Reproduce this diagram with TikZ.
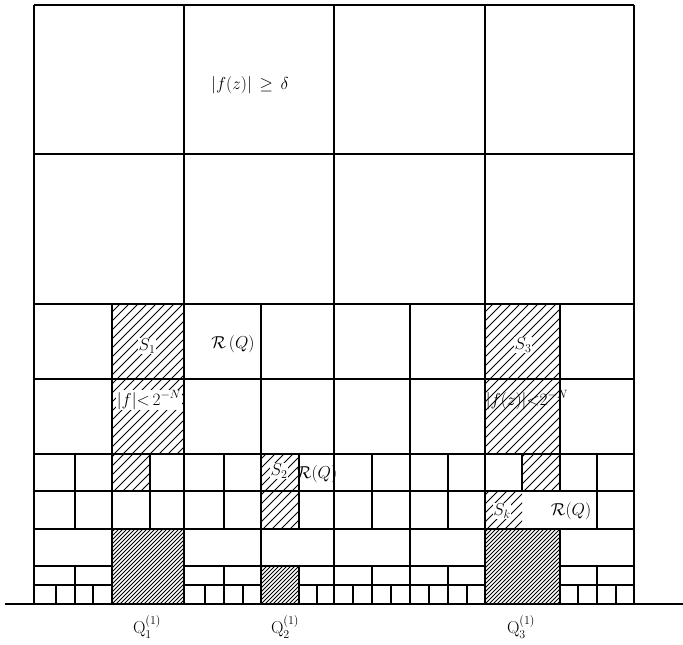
\documentclass[tikz,border=0pt]{standalone}
\usepackage{amsmath,amssymb}
\usepackage{tikz}
\tikzset{
  whitney/.style={
    x=1pt, y=-1pt,
    line width=1.5pt,
    every node/.style={font=\fontsize{18}{21}\selectfont, inner sep=1pt}
  },
  cut/.style={draw=black, line width=1.6pt},           % cube edges
  ground/.style={draw=black, line width=1.6pt},        % real axis
  hatchline/.style={draw=black, line width=0.8pt},     % one stroke of hatching
  onhatch/.style={fill=white, inner sep=0.5pt},
  qlabel/.style={font=\fontsize{18}{21}\selectfont}
}
% hatch a box (x1,y1)--(x2,y2) with 45 degree strokes, spacing #5
\newcommand{\hatchbox}[5]{%
  \begin{scope}
    \clip (#1,#2) rectangle (#3,#4);
    \foreach \k in {0,...,70}
      \draw[hatchline] ({#1-160+\k*#5},#4) -- ++(170,-170);
  \end{scope}}

\begin{document}
\begin{tikzpicture}[whitney]
\useasboundingbox (0,0) rectangle (683,645);

% hatched cubes first, grid on top
\hatchbox{112}{304}{184}{454}{9}
\hatchbox{112}{454}{150}{491}{9}
\hatchbox{261}{454}{299}{529}{9}
\hatchbox{485}{304}{560}{454}{9}
\hatchbox{522}{454}{560}{491}{9}
\hatchbox{485}{491}{522}{529}{9}
% the cubes Q^{(1)}
\hatchbox{112}{529}{184}{604}{4}
\hatchbox{261}{566}{299}{604}{4}
\hatchbox{485}{529}{560}{604}{4}

% big columns
\foreach \x in {34,184,334,485,634}
  \draw[cut] (\x,5) -- (\x,604);
\draw[cut] (34,5) -- (634,5);

% full-width rows
\foreach \y in {154,304,379,454,491,529}
  \draw[cut] (34,\y) -- (634,\y);

% half cubes
\foreach \x in {112,261,410}
  \draw[cut] (\x,304) -- (\x,604);
\draw[cut] (560,304) -- (560,491);
\draw[cut] (560,529) -- (560,604);

% quarter cubes
\foreach \x in {75,150,224,299,372,448,522,597}
  \draw[cut] (\x,454) -- (\x,491);
\foreach \x in {75,150,224,299,372,448,597}
  \draw[cut] (\x,491) -- (\x,529);
\foreach \x in {75,224,299,372,448,597}
  \draw[cut] (\x,566) -- (\x,604);

% lower rows
\draw[cut] (34,566) -- (112,566);
\draw[cut] (184,566) -- (485,566);
\draw[cut] (560,566) -- (634,566);
\draw[cut] (34,585) -- (112,585);
\draw[cut] (184,585) -- (261,585);
\draw[cut] (299,585) -- (485,585);
\draw[cut] (560,585) -- (634,585);

% smallest cubes at the axis
\foreach \x in {56,93,205,243,317,353,391,429,467,578,616}
  \draw[cut] (\x,585) -- (\x,604);

% the axis
\coordinate (axisL) at (5,604);
\coordinate (axisR) at (683,604);
\draw[ground] (axisL) -- (axisR);

% labels
\node (fbig) at (250,85) {$|f(z)|\,\geq\,\delta$};
\node[onhatch] (S1) at (147,346) {$S_1$};
\node (R1) at (233,344) {$\mathcal{R}\,(Q)$};
\node[onhatch] (fsmall1) at (149,400) {$|f|{<}\,2^{-N}$};
\node[onhatch] (S3) at (523,345) {$S_3$};
\node (fsmall3) at (527,400) {$|f(z)|{<}2^{-N}$};
\node[onhatch] (S2) at (279,471) {$S_2$};
\node (R2) at (317,474) {$\mathcal{R}(Q)$};
\node[onhatch] (Sk) at (502,511) {$S_k$};
\node (R3) at (571,511) {$\mathcal{R}(Q)$};

\node[qlabel] (Q1) at (147,627) {$\mathrm{Q}_1^{(1)}$};
\node[qlabel] (Q2) at (285,627) {$\mathrm{Q}_2^{(1)}$};
\node[qlabel] (Q3) at (521,627) {$\mathrm{Q}_3^{(1)}$};

\end{tikzpicture}
\end{document}
